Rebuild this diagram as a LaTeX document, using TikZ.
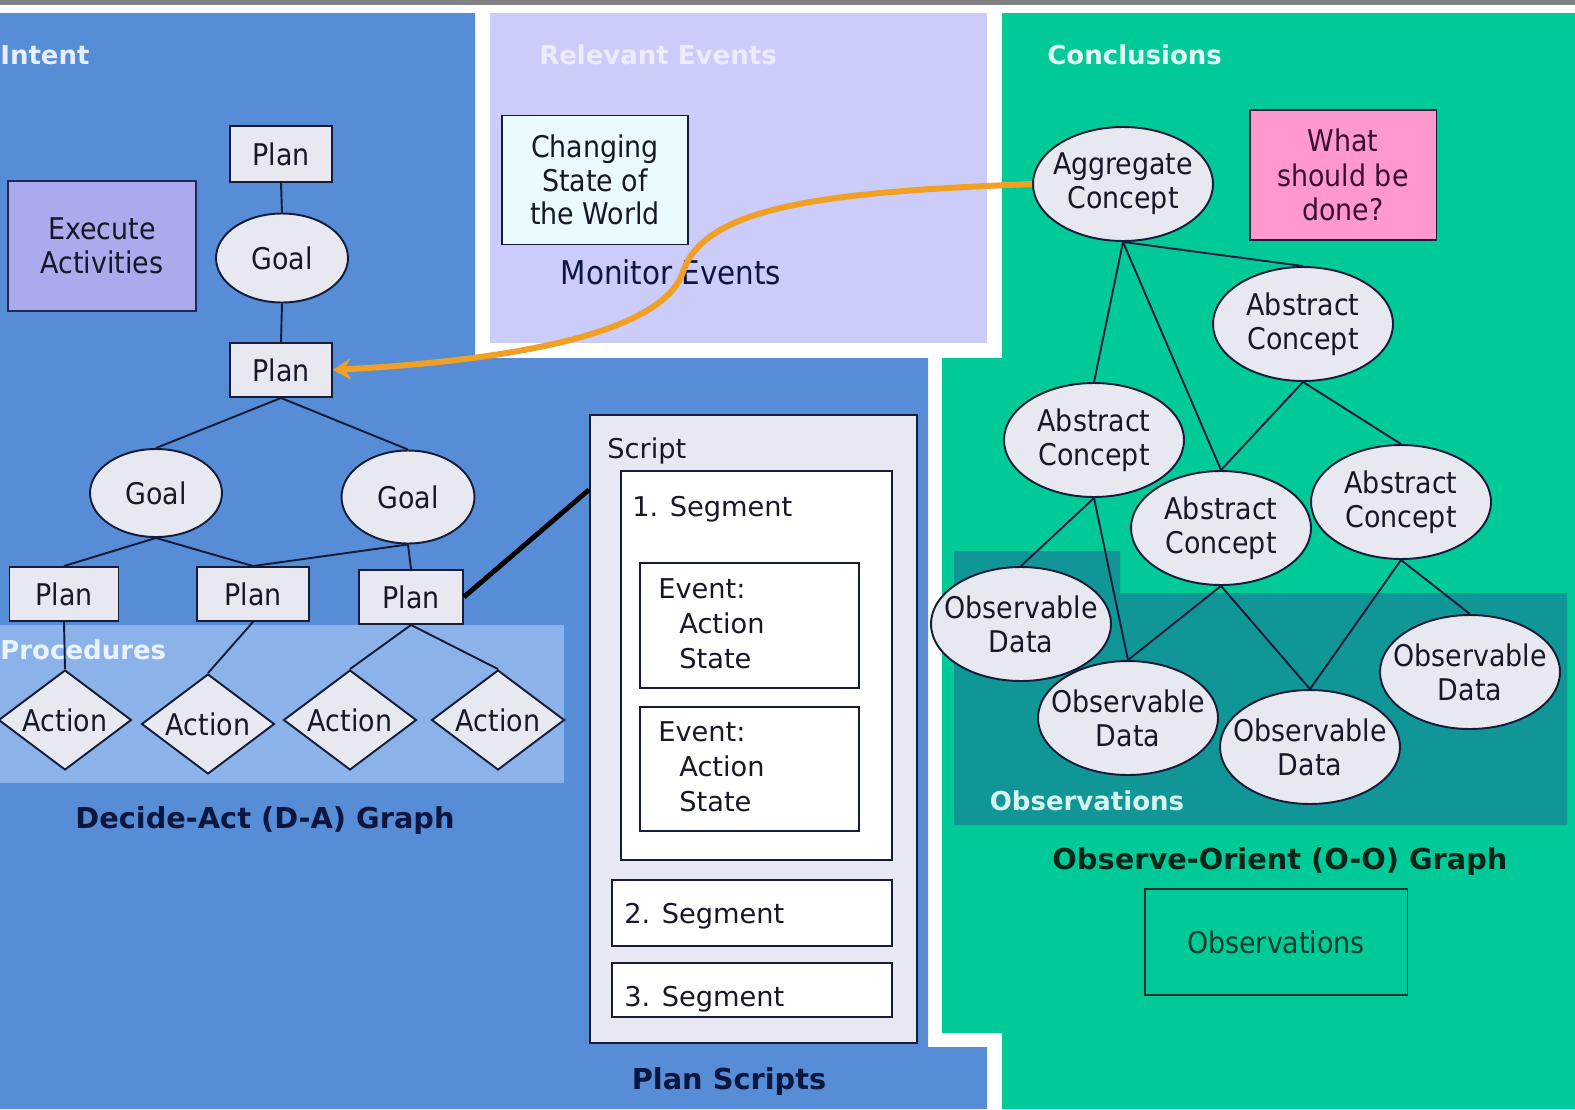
\documentclass[tikz,border=0pt]{standalone}
\usepackage{fontspec}
\setmainfont{DejaVu Sans}
\newfontfamily\condfont{DejaVu Sans Condensed}
\usepackage{tikz}
\usetikzlibrary{arrows.meta, positioning, shapes.geometric, calc}
\definecolor{topgray}{RGB}{128,128,128}
\definecolor{dablue}{RGB}{86,141,214}
\definecolor{procblue}{RGB}{140,178,234}
\definecolor{relpurple}{RGB}{204,204,250}
\definecolor{oogreen}{RGB}{0,202,152}
\definecolor{obsteal}{RGB}{16,150,150}
\definecolor{nodefill}{RGB}{232,232,240}
\definecolor{execfill}{RGB}{170,170,236}
\definecolor{worldfill}{RGB}{235,250,255}
\definecolor{pinkfill}{RGB}{255,152,204}
\definecolor{scriptfill}{RGB}{232,232,243}
\definecolor{linedark}{RGB}{20,28,58}
\definecolor{inkdark}{RGB}{22,24,40}
\definecolor{titledark}{RGB}{12,22,62}
\definecolor{ootitle}{RGB}{6,38,28}
\definecolor{arroworange}{RGB}{240,160,36}

\begin{document}
\begin{tikzpicture}[x=0.02cm, y=-0.02cm,
    every node/.style={text=inkdark},
    nodetext/.style={font=\condfont\fontsize{17pt}{19.5pt}\selectfont, align=center},
    scripttext/.style={font=\fontsize{15.5pt}{19.9pt}\selectfont, inner sep=0pt, align=left},
    boxline/.style={draw=linedark, line width=1.1pt},
    planbox/.style={rectangle, boxline, fill=nodefill, minimum width=2.06cm, minimum height=1.08cm, inner sep=0pt, nodetext},
    goal/.style={ellipse, boxline, fill=nodefill, minimum width=2.64cm, minimum height=1.8cm, inner sep=0pt, nodetext},
    action/.style={diamond, boxline, fill=nodefill, aspect=1.33, minimum width=2.66cm, minimum height=2cm, inner sep=0pt, nodetext},
    concept/.style={ellipse, boxline, fill=nodefill, minimum width=3.6cm, minimum height=2.28cm, inner xsep=-0.3cm, inner ysep=0pt, nodetext},
    segbox/.style={rectangle, boxline, fill=white, inner sep=0pt},
    paneltag/.style={font=\bfseries\fontsize{14.8pt}{17pt}\selectfont, inner sep=0pt},
    graphtitle/.style={font=\bfseries\fontsize{16.4pt}{19pt}\selectfont, text=titledark, inner sep=0pt},
    link/.style={draw=linedark, line width=1.1pt},
]
\useasboundingbox (0,0) rectangle (1575,1109);

% panels
\fill[white] (0,0) rectangle (1575,1109);
\fill[topgray] (0,0) rectangle (1575,5);
\fill[dablue] (0,13) -- (475,13) -- (475,358) -- (928,358) -- (928,1047) -- (987,1047) -- (987,1109) -- (0,1109) -- cycle;
\fill[relpurple] (490,13) rectangle (987,343);
\fill[oogreen] (1002,13) -- (1575,13) -- (1575,1109) -- (1002,1109) -- (1002,1033) -- (942,1033) -- (942,358) -- (1002,358) -- cycle;
\fill[procblue] (0,625) rectangle (564,783);
\fill[obsteal] (954,551) -- (1120,551) -- (1120,593) -- (1567,593) -- (1567,825) -- (954,825) -- cycle;

% panel names
\node[paneltag, text={rgb,255:red,230;green,238;blue,255}, anchor=west] (intent) at (0,55) {Intent};
\node[paneltag, text={rgb,255:red,236;green,236;blue,255}] (relevant) at (658,55) {Relevant Events};
\node[paneltag, text={rgb,255:red,225;green,250;blue,245}, anchor=west] (conclusions) at (1047,55) {Conclusions};
\node[paneltag, text={rgb,255:red,235;green,242;blue,255}, anchor=west] (procedures) at (0,650) {Procedures};
\node[paneltag, text={rgb,255:red,215;green,245;blue,240}] (observations) at (1087,801) {Observations};

% Decide-Act graph
\node[planbox, minimum width=2.04cm, minimum height=1.12cm] (plan1) at (281,154) {Plan};
\node[goal, minimum height=1.78cm] (goal1) at (282,258) {Goal};
\node[planbox, minimum width=2.04cm] (plan2) at (281,370) {Plan};
\node[goal, minimum height=1.76cm] (goal2) at (156,493) {Goal};
\node[goal, minimum width=2.66cm, minimum height=1.86cm] (goal3) at (408,497) {Goal};
\node[planbox, minimum width=2.18cm] (plan3) at (64,594) {Plan};
\node[planbox, minimum width=2.24cm] (plan4) at (253,594) {Plan};
\node[planbox, minimum width=2.08cm] (plan5) at (411,597) {Plan};
\node[action] (act1) at (65,720) {Action};
\node[action] (act2) at (208,724) {Action};
\node[action] (act3) at (350,720) {Action};
\node[action] (act4) at (498,720) {Action};
\node[rectangle, draw={rgb,255:red,30;green,40;blue,90}, line width=1.1pt, fill=execfill, minimum width=3.76cm, minimum height=2.6cm, nodetext] (execute) at (102,246) {Execute\\Activities};

\foreach \a/\b in {plan1/goal1, goal1/plan2, plan2/goal2, plan2/goal3, goal2/plan3, goal2/plan4, goal3/plan4, goal3/plan5, plan3/act1, plan4/act2, plan5/act3, plan5/act4}
    \draw[link] (\a.south) -- (\b.north);

\node[graphtitle] (dagraph) at (265,821) {Decide-Act (D-A) Graph};

% monitor events
\node[rectangle, boxline, fill=worldfill, minimum width=3.72cm, minimum height=2.58cm, nodetext, font=\condfont\fontsize{17pt}{19pt}\selectfont] (world) at (595,180) {Changing\\State of\\the World};
\node[font=\condfont\fontsize{18.6pt}{21pt}\selectfont, text=titledark, inner sep=0pt] (monitor) at (671,272) {Monitor Events};

% plan scripts
\node[rectangle, boxline, fill=scriptfill, minimum width=6.54cm, minimum height=12.56cm] (script) at (753.5,729) {};
\node[segbox, minimum width=5.42cm, minimum height=7.78cm] (seg1) at (756.5,665.5) {};
\node[segbox, minimum width=4.38cm, minimum height=2.5cm] (event1) at (749.5,625.5) {};
\node[segbox, minimum width=4.38cm, minimum height=2.48cm] (event2) at (749.5,769) {};
\node[segbox, minimum width=5.6cm, minimum height=1.32cm] (seg2) at (752,913) {};
\node[segbox, minimum width=5.6cm, minimum height=1.08cm] (seg3) at (752,990) {};
\node[scripttext, anchor=base west] (scriptname) at (607,458) {Script};
\node[scripttext, anchor=base west] (seg1name) at (632,516) {1. Segment};
\node[scripttext, anchor=north west] (event1text) at (658,578) {Event:\\\hspace*{0.42cm}Action\\\hspace*{0.42cm}State};
\node[scripttext, anchor=north west] (event2text) at (658,721) {Event:\\\hspace*{0.42cm}Action\\\hspace*{0.42cm}State};
\node[scripttext, anchor=base west] (seg2name) at (624,923) {2. Segment};
\node[scripttext, anchor=base west] (seg3name) at (624,1006) {3. Segment};
\node[graphtitle] (plangraph) at (729,1082) {Plan Scripts};

\draw[draw=black, line width=2.8pt] (plan5.east) -- ($(script.north west)!0.12!(script.south west)$);

% Observe-Orient graph
\node[concept] (agg) at (1123,184) {Aggregate\\Concept};
\node[rectangle, boxline, fill=pinkfill, minimum width=3.74cm, minimum height=2.6cm, nodetext, text={rgb,255:red,58;green,16;blue,46}] (what) at (1343,175) {What\\should be\\done?};
\node[concept] (abs1) at (1303,324) {Abstract\\Concept};
\node[concept] (abs2) at (1094,440) {Abstract\\Concept};
\node[concept] (abs3) at (1221,528) {Abstract\\Concept};
\node[concept] (abs4) at (1401,502) {Abstract\\Concept};
\node[concept] (obs1) at (1021,624) {Observable\\Data};
\node[concept] (obs2) at (1128,718) {Observable\\Data};
\node[concept] (obs3) at (1310,747) {Observable\\Data};
\node[concept] (obs4) at (1470,672) {Observable\\Data};

\foreach \a/\b in {agg/abs1, agg/abs2, agg/abs3, abs1/abs3, abs1/abs4, abs2/obs1, abs2/obs2, abs3/obs2, abs3/obs3, abs4/obs3, abs4/obs4}
    \draw[link] (\a.south) -- (\b.north);

\node[graphtitle, text=ootitle] (oograph) at (1280,862) {Observe-Orient (O-O) Graph};
\node[rectangle, draw={rgb,255:red,20;green,50;blue,40}, line width=1.1pt, minimum width=5.26cm, minimum height=2.12cm, nodetext, text={rgb,255:red,10;green,60;blue,45}] (obsbox) at (1276,942) {Observations};

% conclusion fed back to the plan
\draw[arroworange, line width=3.4pt, -{Stealth[length=10pt, width=12pt]}] (agg.west) .. controls (830,192) and (705,205) .. (683,272) .. controls (660,340) and (480,362) .. (plan2.east);
\end{tikzpicture}
\end{document}
